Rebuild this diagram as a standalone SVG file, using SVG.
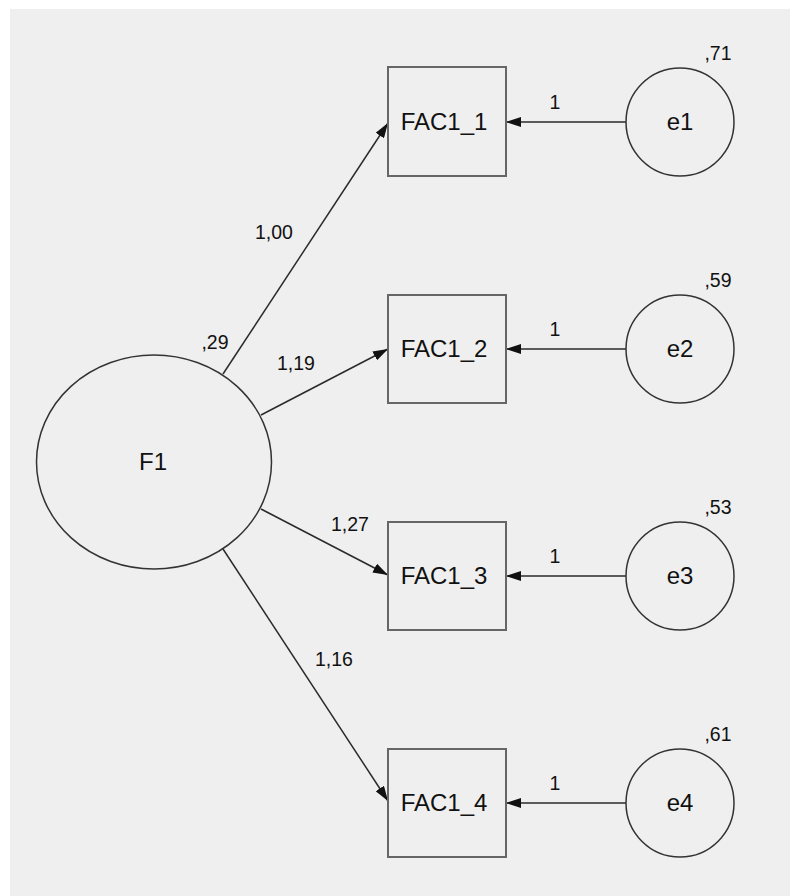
<svg xmlns="http://www.w3.org/2000/svg" width="790" height="896" viewBox="0 0 790 896">
<defs>
<style>
.bg{fill:#efefef}
.lat{fill:none;stroke:#333;stroke-width:1.5}
.obs{fill:none;stroke:#666;stroke-width:2}
.con{fill:none;stroke:#2a2a2a;stroke-width:1.5}
.nl{font-family:"Liberation Sans",Arial,sans-serif;font-size:24px;fill:#111;text-anchor:middle}
.lb{font-family:"Liberation Sans",Arial,sans-serif;font-size:19.5px;fill:#111;text-anchor:middle}
</style>
<marker id="ah" markerUnits="userSpaceOnUse" markerWidth="16" markerHeight="10" refX="15" refY="5" orient="auto" viewBox="0 0 16 10">
<path d="M0,0 L15,5 L0,10 z" fill="#111"/>
</marker>
</defs>
<rect class="bg" x="10" y="9" width="780" height="887"/>
<g id="connectors">
<line class="con" x1="223" y1="374" x2="388" y2="123" marker-end="url(#ah)"/>
<line class="con" x1="261" y1="415" x2="388" y2="349" marker-end="url(#ah)"/>
<line class="con" x1="261" y1="509" x2="388" y2="575" marker-end="url(#ah)"/>
<line class="con" x1="223" y1="549" x2="388" y2="801" marker-end="url(#ah)"/>
<line class="con" x1="626" y1="122" x2="506" y2="122" marker-end="url(#ah)"/>
<line class="con" x1="626" y1="349" x2="506" y2="349" marker-end="url(#ah)"/>
<line class="con" x1="626" y1="576" x2="506" y2="576" marker-end="url(#ah)"/>
<line class="con" x1="626" y1="803" x2="506" y2="803" marker-end="url(#ah)"/>
<text class="lb" x="274" y="239">1,00</text>
<text class="lb" x="296" y="370">1,19</text>
<text class="lb" x="350" y="531">1,27</text>
<text class="lb" x="334" y="666">1,16</text>
<text class="lb" x="555" y="109">1</text>
<text class="lb" x="555" y="336">1</text>
<text class="lb" x="555" y="563">1</text>
<text class="lb" x="555" y="790">1</text>
</g>
<g id="F1">
<ellipse class="lat" cx="154" cy="462" rx="117.5" ry="107"/>
<text class="nl" x="153" y="470">F1</text>
<text class="lb" x="215" y="349">,29</text>
</g>
<g id="FAC1_1">
<rect class="obs" x="388" y="67" width="118" height="109"/>
<text class="nl" x="444" y="130">FAC1_1</text>
</g>
<g id="FAC1_2">
<rect class="obs" x="388" y="295" width="118" height="108"/>
<text class="nl" x="444" y="357">FAC1_2</text>
</g>
<g id="FAC1_3">
<rect class="obs" x="388" y="522" width="118" height="108"/>
<text class="nl" x="444" y="584">FAC1_3</text>
</g>
<g id="FAC1_4">
<rect class="obs" x="388" y="749" width="118" height="108"/>
<text class="nl" x="444" y="811">FAC1_4</text>
</g>
<g id="e1">
<circle class="lat" cx="680" cy="122" r="54"/>
<text class="nl" x="680" y="130">e1</text>
<text class="lb" x="718" y="60">,71</text>
</g>
<g id="e2">
<circle class="lat" cx="680" cy="349" r="54"/>
<text class="nl" x="680" y="357">e2</text>
<text class="lb" x="718" y="287">,59</text>
</g>
<g id="e3">
<circle class="lat" cx="680" cy="576" r="54"/>
<text class="nl" x="680" y="584">e3</text>
<text class="lb" x="718" y="514">,53</text>
</g>
<g id="e4">
<circle class="lat" cx="680" cy="803" r="54"/>
<text class="nl" x="680" y="811">e4</text>
<text class="lb" x="718" y="741">,61</text>
</g>
</svg>
